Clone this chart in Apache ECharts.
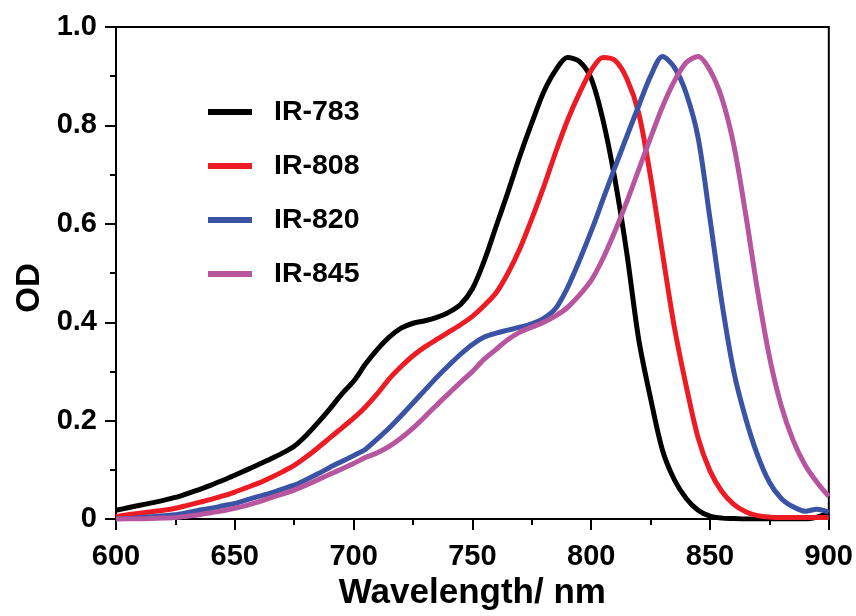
<!DOCTYPE html>
<html>
<head>
<meta charset="utf-8">
<script src="https://cdn.jsdelivr.net/npm/echarts@6/dist/echarts.min.js"></script>
<style>html,body{margin:0;padding:0;background:#fff}#c{width:856px;height:616px}</style>
</head>
<body>
<div id="c"></div>
<script>
var wavelengths = [600,605,610,615,620,625,630,635,640,645,650,655,660,665,670,675,680,685,690,695,700,705,710,715,720,725,730,735,740,745,750,755,760,765,770,775,780,785,790,795,800,805,810,815,820,825,830,835,840,845,850,855,860,865,870,875,880,885,890,895,900];
var seriesNames = ['IR-783','IR-808','IR-820','IR-845'];
var ir783 = [0.018,0.023,0.028,0.033,0.038,0.044,0.052,0.060,0.069,0.079,0.089,0.100,0.111,0.122,0.134,0.148,0.170,0.196,0.224,0.254,0.280,0.315,0.345,0.370,0.388,0.398,0.403,0.410,0.420,0.436,0.468,0.525,0.595,0.665,0.738,0.805,0.868,0.912,0.938,0.930,0.895,0.810,0.690,0.540,0.365,0.245,0.140,0.080,0.042,0.018,0.006,0.002,0.001,0,0,0,0,0,0,0.004,0.012];
var ir808 = [0.005,0.009,0.012,0.015,0.018,0.022,0.028,0.034,0.040,0.047,0.055,0.064,0.073,0.084,0.096,0.109,0.126,0.145,0.165,0.185,0.205,0.228,0.255,0.285,0.310,0.332,0.350,0.365,0.380,0.395,0.412,0.434,0.460,0.500,0.550,0.610,0.675,0.745,0.810,0.865,0.912,0.938,0.932,0.895,0.825,0.695,0.540,0.390,0.270,0.165,0.098,0.056,0.030,0.015,0.007,0.004,0.003,0.003,0.003,0.003,0.003];
var ir820 = [0,0.001,0.003,0.005,0.007,0.009,0.013,0.018,0.022,0.027,0.032,0.039,0.046,0.053,0.061,0.069,0.080,0.092,0.105,0.117,0.129,0.142,0.163,0.185,0.210,0.236,0.262,0.288,0.312,0.335,0.355,0.370,0.378,0.384,0.390,0.397,0.408,0.428,0.470,0.525,0.585,0.650,0.715,0.778,0.840,0.900,0.940,0.918,0.865,0.775,0.610,0.440,0.300,0.205,0.130,0.075,0.042,0.025,0.016,0.020,0.014];
var ir845 = [0,0,0,0.001,0.002,0.003,0.006,0.009,0.013,0.017,0.022,0.028,0.035,0.043,0.051,0.059,0.069,0.080,0.091,0.102,0.113,0.125,0.135,0.148,0.165,0.185,0.208,0.232,0.255,0.278,0.300,0.325,0.345,0.365,0.380,0.390,0.400,0.413,0.430,0.455,0.485,0.530,0.585,0.645,0.710,0.775,0.838,0.890,0.928,0.940,0.912,0.855,0.760,0.620,0.465,0.330,0.230,0.160,0.110,0.075,0.046];
var xTicks = [600,650,700,750,800,850,900];
var yTicks = [0,0.2,0.4,0.6,0.8,1.0];
var colors = ['#000000','#ED1C24','#3A53A4','#B7559F'];

var FONT = 'Liberation Sans, Arial, sans-serif';
var allData = [ir783, ir808, ir820, ir845];
var chart = echarts.init(document.getElementById('c'), null, {renderer:'canvas'});
var axisCommon = {
  axisLine:{show:true,lineStyle:{color:'#000',width:2}},
  axisTick:{show:true,inside:false,length:11,lineStyle:{color:'#000',width:2}},
  minorTick:{show:true,splitNumber:2,length:6,lineStyle:{color:'#000',width:2}},
  splitLine:{show:false},
  minorSplitLine:{show:false}
};
chart.setOption({
  animation:false,
  backgroundColor:'#fff',
  grid:{left:116,right:27,top:27,bottom:92,show:true,borderColor:'#000',borderWidth:2,containLabel:false},
  legend:{
    orient:'vertical', left:203, top:92, itemWidth:44, itemHeight:6, itemGap:24, icon:'rect',
    selectedMode:false,
    data:seriesNames,
    textStyle:{fontFamily:FONT,fontSize:28.5,fontWeight:'bold',color:'#000',lineHeight:30,padding:[0,0,0,17]}
  },
  xAxis:Object.assign({
    type:'value', min:xTicks[0], max:xTicks[xTicks.length-1], interval:50,
    name:'Wavelength/ nm', nameLocation:'middle', nameGap:54,
    nameTextStyle:{fontFamily:FONT,fontSize:35,fontWeight:'bold',color:'#000'},
    axisLabel:{fontFamily:FONT,fontSize:29,fontWeight:'bold',color:'#000',margin:23}
  }, axisCommon),
  yAxis:Object.assign({
    type:'value', min:yTicks[0], max:yTicks[yTicks.length-1], interval:0.2,
    axisLabel:{fontFamily:FONT,fontSize:29,fontWeight:'bold',color:'#000',margin:19,
      formatter:function(v){return v===0?'0':v.toFixed(1);}}
  }, axisCommon),
  graphic:[{type:'text', x:30, y:288, rotation:Math.PI/2,
    style:{text:'OD', fontFamily:FONT, fontSize:33, fontWeight:'bold', fill:'#000', align:'center', verticalAlign:'middle'}}],
  series:seriesNames.map(function(n,i){
    return {name:n,type:'line',smooth:0.3,showSymbol:false,color:colors[i],
      lineStyle:{width:5,color:colors[i]},
      data:wavelengths.map(function(w,j){return [w, allData[i][j]];})};
  })
});
</script>
</body>
</html>
